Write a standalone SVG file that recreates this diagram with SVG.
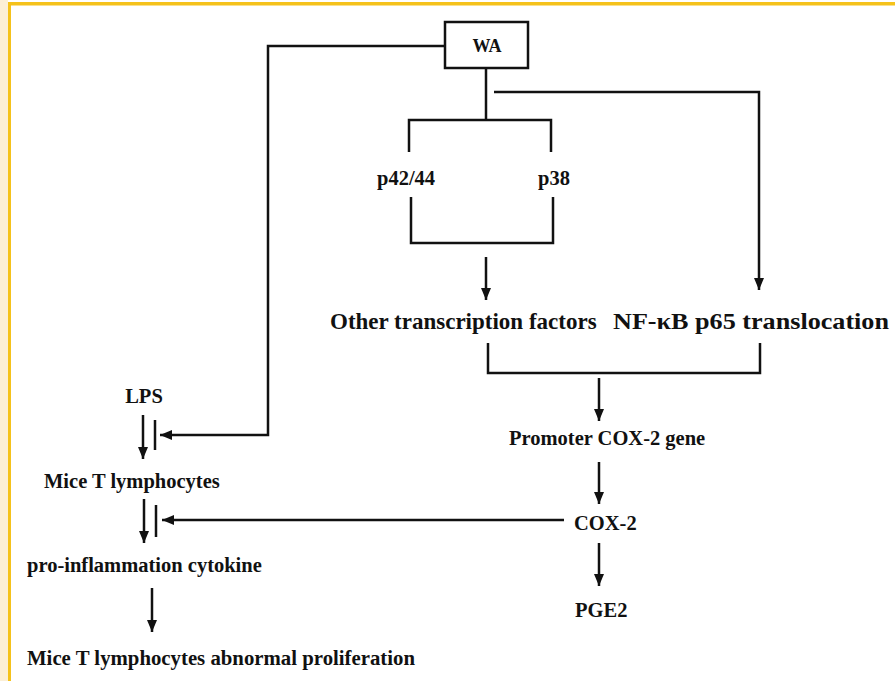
<svg xmlns="http://www.w3.org/2000/svg" width="895" height="681" viewBox="0 0 895 681">
<defs>
<style>
text{font-family:"Liberation Serif","Times New Roman",serif;font-weight:bold;fill:#111;font-size:20.5px}
.big{font-size:23px}
.wa{font-size:18px}
.ln{fill:none;stroke:#111;stroke-width:2.5}
</style>
<marker id="ah" markerUnits="userSpaceOnUse" markerWidth="12" markerHeight="10" refX="12" refY="5" orient="auto">
<path d="M0,0 L12,5 L0,10 z" fill="#111"/>
</marker>
</defs>
<rect x="0" y="0" width="895" height="681" fill="#fff"/>
<rect x="0" y="0" width="8" height="681" fill="#fcefd6"/>
<rect x="8" y="2" width="887" height="3.5" fill="#f5c21b"/>
<rect x="8" y="2" width="3" height="679" fill="#f5c21b"/>

<g id="connectors">
<path class="ln" d="M445,46 H268 V435 H160" marker-end="url(#ah)"/>
<path class="ln" d="M486,68 V120"/>
<path class="ln" d="M409,152 V120 H551 V152"/>
<path class="ln" d="M494,92 H759 V290" marker-end="url(#ah)"/>
<path class="ln" d="M411,197 V243 H553 V197"/>
<path class="ln" d="M486,257 V300" marker-end="url(#ah)"/>
<path class="ln" d="M488,343 V373 H760 V343"/>
<path class="ln" d="M599,378 V421" marker-end="url(#ah)"/>
<path class="ln" d="M599,462 V504" marker-end="url(#ah)"/>
<path class="ln" d="M599,543 V586" marker-end="url(#ah)"/>
<path class="ln" d="M564,520 H162" marker-end="url(#ah)"/>
<path class="ln" d="M143,415 V459" marker-end="url(#ah)"/>
<path class="ln" d="M144,499 V543" marker-end="url(#ah)"/>
<path class="ln" d="M152,588 V632" marker-end="url(#ah)"/>
<path class="ln" d="M155,420 V450"/>
<path class="ln" d="M156,505 V537"/>
</g>

<g id="WA"><rect class="ln" x="445" y="22" width="83" height="46"/><text class="wa" x="487" y="52" text-anchor="middle">WA</text></g>
<g id="p42_44"><text x="377" y="185">p42/44</text></g>
<g id="p38"><text x="538" y="185">p38</text></g>
<g id="other_tf"><text class="big" x="330" y="329">Other transcription factors</text></g>
<g id="nfkb"><text class="big" x="613" y="329" textLength="276" lengthAdjust="spacingAndGlyphs">NF-κB p65 translocation</text></g>
<g id="promoter"><text x="509" y="445">Promoter COX-2 gene</text></g>
<g id="cox2"><text x="574" y="530">COX-2</text></g>
<g id="pge2"><text x="575" y="617">PGE2</text></g>
<g id="lps"><text x="144" y="403" text-anchor="middle">LPS</text></g>
<g id="mice_t"><text x="44" y="488">Mice T lymphocytes</text></g>
<g id="cytokine"><text x="27" y="572">pro-inflammation cytokine</text></g>
<g id="prolif"><text x="27" y="665" textLength="388" lengthAdjust="spacingAndGlyphs">Mice T lymphocytes abnormal proliferation</text></g>
</svg>
